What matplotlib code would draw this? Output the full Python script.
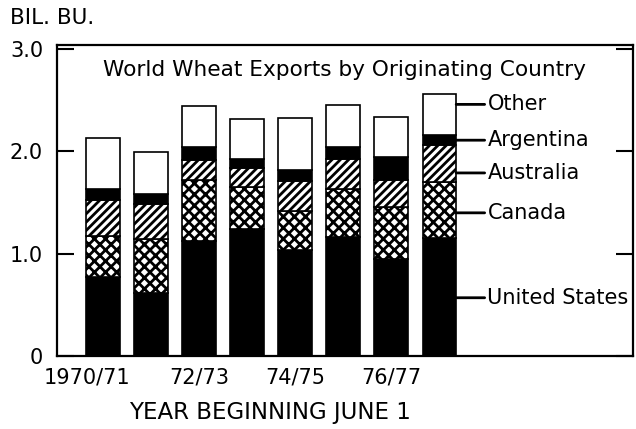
import numpy as np
import matplotlib
matplotlib.use("Agg")
import matplotlib.pyplot as plt
import matplotlib.transforms as mtransforms

plt.rcParams['font.family'] = ['DejaVu Sans']
plt.rcParams['hatch.linewidth'] = 2.0

## Data, billion bushels
years = ["1970/71", "71/72", "72/73", "73/74", "74/75", "75/76", "76/77", "77/78"]
united_states = [0.77, 0.62, 1.12, 1.24, 1.04, 1.16, 0.95, 1.15]
canada        = [0.40, 0.52, 0.60, 0.41, 0.38, 0.47, 0.51, 0.55]
australia     = [0.36, 0.35, 0.20, 0.19, 0.29, 0.30, 0.26, 0.36]
argentina     = [0.10, 0.09, 0.12, 0.09, 0.11, 0.11, 0.23, 0.10]
other         = [0.50, 0.41, 0.40, 0.39, 0.51, 0.41, 0.39, 0.40]

series = [
    ("United States", united_states, "black", ""),
    ("Canada", canada, "white", "xxx"),
    ("Australia", australia, "white", "////"),
    ("Argentina", argentina, "black", ""),
    ("Other", other, "white", ""),
]

fig = plt.figure(figsize=(6.36, 4.29), dpi=100)
ax = fig.add_axes([0.0896, 0.170, 0.905, 0.725])

x = np.arange(len(years))
width = 0.7
bottom = np.zeros(len(years))
for name, vals, color, hatch in series:
    ax.bar(x, vals, width, bottom=bottom, color=color, edgecolor="black",
           hatch=hatch, linewidth=1.2)
    bottom += np.array(vals)

ax.set_xlim(-0.956, 11.02)
ax.set_ylim(0, 3.04)

# y axis
ax.set_yticks([0, 1, 2, 3])
ax.set_yticklabels(["0", "1.0", "2.0", "3.0"], fontsize=15)
ax.tick_params(axis="y", direction="in", length=12, width=1.5, left=True,
               right=True, pad=10)
# x axis
ax.set_xticks(x[::2])
ax.set_xticklabels(years[::2], fontsize=15)
ax.tick_params(axis="x", length=0, pad=8)
first = ax.get_xticklabels()[0]
first.set_transform(first.get_transform() +
                    mtransforms.ScaledTranslation(-16 / 100, 0, fig.dpi_scale_trans))

for s in ax.spines.values():
    s.set_linewidth(1.6)

ax.set_xlabel("YEAR BEGINNING JUNE 1", fontsize=16.5)
ax.xaxis.set_label_coords(0.37, -0.183)
ax.xaxis.label.set_va("center")
fig.text(0.016, 0.957, "BIL. BU.", fontsize=15.5, ha="left", va="center")
ax.text(0.5, 0.92, "World Wheat Exports by Originating Country",
        transform=ax.transAxes, ha="center", va="center", fontsize=15.6)

# labels for the last bar
last = len(years) - 1
label_y = {"Other": 2.46, "Argentina": 2.11, "Australia": 1.79,
           "Canada": 1.40, "United States": 0.57}
for name, yy in label_y.items():
    ax.annotate(name, xy=(last + width / 2, yy), xytext=(last + 1.0, yy),
                fontsize=15, va="center", ha="left",
                arrowprops=dict(arrowstyle="-", color="black", lw=2,
                                shrinkA=0, shrinkB=0))

fig.savefig("out.png", dpi=100)
